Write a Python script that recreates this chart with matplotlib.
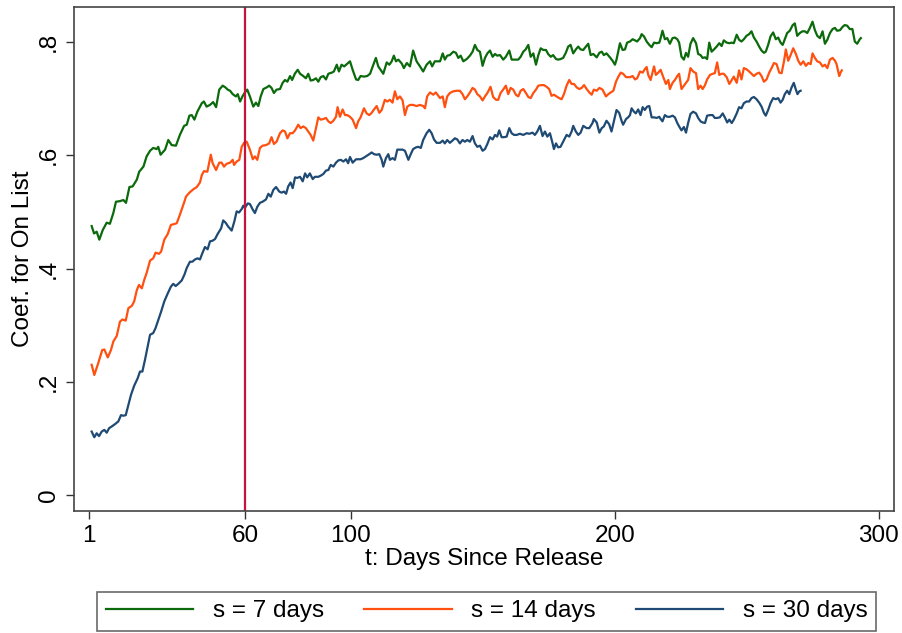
import matplotlib
matplotlib.use("Agg")
from matplotlib import pyplot as plt

plt.rcParams['font.family'] = ['Liberation Sans', 'DejaVu Sans']

# s = 7 days
days_7 = [2.0, 2.9, 3.9, 4.9, 6.2, 7.7, 8.9, 10.2, 11.2, 12.7, 14.0, 15.0, 16.3, 17.5, 19.1, 20.0,
          21.6, 22.8, 24.1, 25.3, 26.6, 27.2, 28.1, 29.8, 31.0, 32.3, 33.9, 35.4, 37.0, 38.0, 39.0,
          39.9, 40.9, 42.0, 43.7, 44.5, 45.5, 46.8, 48.0, 49.1, 50.3, 51.6, 52.6, 53.5, 54.4, 55.4,
          56.6, 57.3, 58.2, 59.2, 60.0, 60.9,
          61.9, 63.2, 64.2, 65.1, 66.0, 67.0, 68.3, 69.2, 70.1, 71.0, 72.0, 73.3, 74.3, 75.2, 76.1,
          77.1, 77.9, 78.9, 80.0, 80.9, 82.1, 83.1, 84.0, 84.9, 85.9, 86.9, 87.8, 88.7, 89.7, 90.7,
          91.6, 92.9, 93.7, 94.8, 95.6, 96.6, 97.6, 98.8, 99.8, 100.8, 102.1, 102.9, 103.8, 105.1,
          106.3, 107.4, 108.4, 109.6, 110.5, 111.4, 112.4, 113.7, 114.7, 115.6, 116.4, 117.2, 118.1,
          119.4, 120.2, 121.3, 122.5, 123.7, 125.0, 126.3, 127.5, 128.8, 130.1, 130.9, 131.9,
          133.9, 134.9, 135.7, 136.6, 137.6, 138.9, 139.9, 140.8, 141.7, 142.7, 144.0, 145.2, 146.2,
          147.1, 148.0, 149.0, 150.0, 150.9, 151.8, 152.8, 153.8, 154.7, 155.5, 156.6, 157.8, 158.8,
          160.1, 161.0, 162.2, 163.5, 164.4, 165.4, 166.3, 167.3, 168.2, 169.2, 170.2, 171.1, 172.0,
          173.0, 174.0, 174.8, 175.8, 176.7, 177.8, 178.6, 179.5, 180.5, 181.5, 182.4, 183.3, 184.3,
          185.3, 186.2, 187.1, 188.1, 189.1, 190.0, 190.9, 191.9, 193.2, 194.2, 195.1, 195.9, 196.9,
          198.2, 199.2, 200.1, 200.7, 202.0, 203.0, 203.9, 204.7,
          205.8, 206.8, 207.7, 208.5, 209.6, 210.2, 211.1, 212.1, 213.1, 214.0, 214.9, 215.9, 216.9,
          217.4, 218.1, 219.0, 219.9, 220.9, 221.9, 222.8, 223.7, 224.4, 225.3, 226.2, 227.0, 227.8,
          228.7, 229.7, 230.8, 231.6, 232.5, 233.3, 234.2, 235.0, 235.8, 236.7, 237.6, 238.6, 239.6,
          240.5, 241.3, 242.4, 243.4, 244.3, 245.1, 246.2, 247.1, 248.0, 248.9, 249.9, 250.9, 251.8,
          252.7, 253.7, 254.7, 255.6, 256.5, 257.2, 258.1, 259.0, 260.0, 261.0, 261.9, 262.8, 263.6,
          264.4, 265.3, 266.3, 267.4, 268.2, 269.1, 270.1, 271.1, 272.0, 272.9, 273.9, 274.9, 275.8,
          276.7, 277.7, 278.7, 279.6, 280.5, 281.5, 282.5, 283.4, 284.2, 285.3, 286.3, 287.1, 288.0,
          289.0, 290.0, 290.9, 291.8, 292.8, 293.2]
coef_7 = [.475, .462, .465, .451, .468, .481, .479, .498, .518, .519, .521, .516, .544, .545, .557, .571,
          .580, .598, .608, .613, .611, .615, .601, .610, .627, .618, .617, .636, .652, .654, .670,
          .671, .663, .677, .692, .695, .686, .689, .694, .685, .716, .723, .720, .716, .714, .708,
          .704, .708, .695, .705, .711, .716,
          .704, .686, .693, .687, .704, .717, .720, .723, .719, .710, .716, .717, .728, .733, .730,
          .740, .733, .744, .751, .744, .740, .736, .744, .732, .733, .736, .730, .738, .740, .734,
          .744, .746, .748, .760, .748, .760, .757, .762, .766, .751, .734, .733, .740, .739,
          .740, .744, .757, .772, .757, .751, .744, .764, .760, .766, .776, .766, .769,
          .762, .754, .763, .757, .785, .766, .757, .748, .760, .766, .757, .766,
          .766, .780, .769, .776, .777, .783, .781, .772, .776, .766, .770, .776, .783,
          .795, .786, .783, .758, .772, .780, .785, .774, .779, .776, .777, .769, .774,
          .785, .769, .769, .769, .774, .783, .787, .795, .774, .780, .760, .777, .789,
          .786, .786, .779, .774, .777, .770, .769, .770, .772, .781, .792, .795, .780,
          .787, .792, .787, .786, .792, .797, .777, .779, .773, .781, .783, .777, .780,
          .773, .767, .760, .769, .798, .786, .787, .799,
          .801, .805, .803, .801, .807, .814, .810, .801, .795, .791, .799, .798, .799,
          .807, .820, .805, .807, .797, .807, .808, .805, .799, .774, .769, .781, .774,
          .797, .807, .798, .779, .777, .772, .773, .770, .799, .783, .787, .792, .798,
          .793, .803, .799, .798, .799, .798, .813, .804, .801, .805, .811, .814, .819,
          .808, .801, .792, .785, .781, .783, .795, .810, .817, .805, .808, .799, .795,
          .805, .816, .820, .830, .833, .811, .816, .819, .819, .816, .825, .836, .821,
          .811, .807, .819, .797, .804, .816, .823, .825, .820, .821, .827, .830, .829,
          .823, .823, .801, .797, .805, .807]

# s = 14 days
days_14 = [2.0, 3.0, 4.5, 6.0, 6.8, 8.1, 9.3, 10.2, 11.5, 12.7, 13.6, 14.9, 15.9, 17.2, 18.1, 19.1,
           19.9, 21.0, 21.9, 22.8, 24.1, 25.3, 26.2, 27.5, 28.3, 29.5, 30.8, 32.0, 33.6, 34.2, 35.4,
           36.3, 37.1, 37.7, 39.0, 40.5, 41.8, 43.0, 43.7, 44.5, 45.8, 47.1, 47.8, 49.1, 50.3, 51.2,
           52.1, 53.1, 54.4, 55.4, 55.9, 56.9, 57.9, 58.8, 59.7, 60.7,
           61.9, 63.0, 63.8, 64.7, 65.7, 66.7, 68.0, 69.2, 70.1, 71.0, 72.0, 73.3, 74.3, 75.2, 76.1,
           77.1, 78.1, 79.0, 80.2, 81.1, 82.1, 83.1, 84.0, 84.9, 85.9, 86.9, 87.8, 88.7, 89.7, 90.7,
           91.6, 92.5, 93.5, 94.5, 95.1, 96.0, 97.0, 97.9, 98.8, 99.8, 100.8, 102.1, 102.9, 103.8,
           105.1, 106.1, 107.1, 108.0, 108.9, 109.9, 110.9, 111.8, 113.0, 113.9, 114.9, 115.9, 116.8,
           117.7, 118.7, 119.7, 120.6, 121.5, 122.5, 123.7, 125.0, 126.3, 127.5, 128.2, 129.0, 130.1,
           131.3, 132.3,
           133.9, 134.9, 135.7, 136.6, 137.6, 138.9, 140.2, 141.4, 142.4, 143.3, 144.2, 145.2, 146.2,
           147.1, 148.0, 149.0, 150.0, 150.9, 151.8, 153.0, 154.0, 155.1, 155.9, 156.8, 157.8, 158.8,
           159.7, 160.6, 161.6, 162.6, 163.5, 164.4, 165.4, 166.4, 167.3, 168.2, 169.2, 170.2, 171.1,
           172.3, 173.2, 174.2, 175.2, 176.1, 177.0, 178.0, 179.0, 179.9, 180.8, 181.8, 182.8, 183.7,
           184.6, 185.6, 186.6, 187.5, 188.4, 189.4, 190.4, 191.3, 192.1, 193.2, 194.2, 195.4, 196.7,
           197.6, 198.5, 199.5, 200.5, 201.3, 202.3, 203.2, 204.3, 205.1,
           205.8, 206.8, 207.7, 208.5, 209.6, 210.6, 211.4, 212.1, 212.7, 213.6, 214.4, 214.9, 215.6,
           216.5, 217.4, 218.4, 219.4, 220.3, 220.9, 221.9, 222.8, 223.7, 224.4, 225.3, 226.2, 227.0,
           227.8, 228.7, 229.7, 230.8, 231.6, 232.5, 233.3, 234.2, 235.0, 236.1, 237.1, 237.9, 238.8,
           239.6, 240.5, 241.3, 242.4, 243.4, 244.3, 245.1, 246.2, 247.1, 248.0, 248.9, 249.9, 250.9,
           251.8, 252.7, 253.7, 254.7, 255.6, 256.5, 257.5, 258.5, 259.4, 260.3, 261.3, 262.3, 263.2,
           264.1, 264.8, 265.7, 266.6, 267.6, 268.6, 269.5, 270.4, 271.4, 272.4, 273.3, 274.2, 274.9,
           275.8, 276.7, 277.7, 278.7, 279.6, 280.5, 281.5, 282.5, 283.4, 284.0, 284.6, 285.0, 285.5,
           286.0]
coef_14 = [.230, .212, .233, .256, .257, .243, .256, .271, .281, .306, .310, .308, .330, .334, .342, .362,
           .371, .365, .380, .392, .414, .418, .428, .426, .430, .451, .461, .477, .479, .480, .495,
           .507, .518, .527, .534, .540, .544, .552, .565, .572, .571, .601, .586, .574, .587, .587,
           .580, .585, .587, .592, .583, .589, .592, .615, .622, .624,
           .610, .593, .598, .592, .613, .617, .618, .621, .632, .620, .624, .639, .644, .642, .630,
           .639, .639, .644, .654, .648, .651, .648, .642, .636, .626, .648, .667, .663, .664, .666,
           .660, .657, .661, .668, .685, .668, .681, .671, .671, .668, .663, .648, .660, .667,
           .683, .674, .671, .675, .681, .687, .675, .680, .698, .695, .698, .693, .713,
           .699, .704, .697, .671, .686, .689, .689, .687, .689, .687, .683, .704, .711,
           .707, .711,
           .701, .704, .685, .704, .710, .713, .714, .714, .708, .699, .704, .711, .719,
           .716, .708, .704, .697, .704, .710, .721, .703, .698, .698, .710, .716, .723,
           .708, .719, .716, .707, .704, .714, .717, .710, .703, .701, .710, .716, .723,
           .724, .724, .721, .717, .705, .707, .704, .701, .699, .708, .723, .733, .726,
           .726, .720, .717, .719, .724, .717, .711, .707, .716, .714, .719, .716, .704,
           .708, .711, .714, .730, .738, .746, .744, .738, .738,
           .738, .740, .734, .736, .748, .746, .752, .756, .742, .733, .748, .757, .742,
           .746, .751, .738, .726, .733, .717, .728, .733, .740, .744, .717, .723, .728,
           .733, .754, .748, .745, .717, .723, .717, .724, .734, .742, .744, .745, .764,
           .742, .744, .744, .738, .726, .733, .739, .728, .750, .734, .754, .752, .748,
           .744, .740, .744, .746, .740, .730, .734, .746, .754, .763, .761, .746, .745,
           .766, .787, .767, .777, .789, .779, .767, .760, .766, .758, .763, .761, .780,
           .772, .766, .764, .757, .760, .754, .769, .772, .767, .761, .748, .740, .746,
           .750]

# s = 30 days
days_30 = [2.0, 3.0, 3.9, 4.8, 5.8, 6.8, 7.7, 8.6, 9.6, 10.8, 12.1, 13.1, 14.0, 14.9, 15.9, 16.9,
           18.1, 19.4, 20.3, 21.2, 22.2, 23.2, 24.1, 25.3, 26.2, 27.2, 28.3, 29.5, 30.8, 32.0, 32.9,
           33.8, 34.8, 36.1, 37.1, 38.0, 39.2, 40.1, 41.1, 42.1, 43.0, 43.9, 44.9, 45.9, 46.8, 47.7,
           48.7, 49.7, 51.0, 51.8, 52.7, 53.7, 55.0, 56.0, 56.9, 57.8, 58.8, 59.4, 60.0, 61.1,
           61.9, 63.0, 63.8, 64.7, 65.7, 66.7, 68.0, 68.9, 69.8, 70.8, 71.8, 73.0, 73.9, 74.8, 75.6,
           76.4, 77.3, 78.1, 79.0, 79.8, 80.9, 81.9, 82.8, 83.6, 84.6, 85.7, 86.5, 87.8, 88.7, 89.7,
           90.7, 91.6, 92.5, 93.5, 94.5, 95.4, 96.3, 97.3, 98.3, 99.1, 99.8, 100.8, 102.1, 102.9,
           103.8, 104.8, 105.8, 107.1, 108.0, 108.9, 109.9, 110.9, 111.8, 112.4, 113.4, 114.3, 114.9,
           115.9, 116.8, 117.7, 118.7, 119.7, 120.6, 121.9, 122.8, 123.7, 124.8, 125.6, 126.6, 127.5,
           128.8, 129.8, 130.7, 131.6, 132.6,
           133.9, 134.9, 135.7, 136.6, 137.6, 138.6, 139.5, 140.4, 141.4, 142.4, 143.3, 144.2, 145.2,
           146.2, 147.1, 148.0, 149.0, 150.0, 150.9, 151.8, 152.8, 153.8, 154.7, 155.5, 156.3, 157.2,
           158.1, 159.1, 160.1, 161.0, 161.9, 162.9, 164.1, 165.4, 166.7, 167.7, 168.9, 169.8, 170.7,
           171.7, 172.7, 173.6, 174.5, 175.5, 176.5, 177.0, 177.8, 178.6, 179.5, 180.8, 181.8, 182.8,
           183.7, 184.3, 185.3, 186.2, 187.1, 188.1, 189.4, 190.4, 191.6, 192.1, 193.2, 194.2, 195.1,
           195.9, 196.9, 197.9, 198.8, 199.7, 200.7, 201.7, 202.6, 203.2, 204.3, 205.1,
           205.8, 206.4, 207.3, 208.0, 208.9, 209.8, 210.6, 211.4, 212.3, 213.1, 214.0, 214.9, 215.9,
           216.9, 217.4, 218.1, 219.0, 219.9, 220.9, 221.9, 222.8, 223.7, 224.4, 225.3, 226.2, 227.0,
           227.8, 228.7, 229.7, 230.8, 231.6, 232.5, 233.3, 234.2, 235.0, 236.1, 237.1, 237.9, 238.8,
           239.8, 240.9, 241.7, 242.6, 243.4, 244.3, 245.1, 246.2, 247.1, 248.0, 248.9, 249.9, 250.9,
           251.8, 252.7, 253.7, 254.7, 255.6, 256.5, 257.2, 258.1, 259.0, 260.0, 261.0, 261.9, 262.8,
           263.6, 264.4, 265.3, 266.1, 266.9, 267.8, 268.6, 269.2, 269.9, 270.4]
coef_30 = [.112, .102, .109, .104, .112, .115, .110, .118, .121, .125, .130, .141, .140, .141, .159, .177,
           .193, .206, .218, .218, .239, .262, .283, .286, .295, .309, .324, .342, .356, .368, .373,
           .369, .373, .379, .389, .401, .412, .412, .416, .418, .416, .427, .438, .434, .448, .449,
           .452, .461, .471, .485, .481, .474, .467, .483, .501, .499, .505, .511, .507, .515,
           .514, .504, .498, .509, .516, .518, .522, .532, .527, .539, .544, .536, .534, .536, .532,
           .545, .552, .542, .561, .560, .562, .554, .568, .561, .568, .558, .562, .562, .564, .567,
           .573, .574, .583, .580, .587, .591, .592, .589, .593, .586, .597, .587, .593, .593,
           .593, .595, .598, .602, .605, .602, .601, .602, .592, .580, .595, .602, .592,
           .595, .592, .610, .610, .610, .608, .592, .602, .611, .614, .615, .613, .627,
           .639, .645, .639, .628, .622,
           .622, .626, .621, .627, .622, .626, .630, .628, .621, .627, .624, .627, .624,
           .634, .621, .615, .617, .608, .611, .620, .632, .628, .636, .633, .644, .632,
           .632, .633, .648, .639, .636, .636, .638, .636, .639, .638, .640, .636, .642,
           .652, .634, .642, .633, .639, .621, .611, .621, .614, .615, .627, .636, .633,
           .642, .652, .642, .636, .640, .652, .648, .648, .657, .664, .658, .640, .648,
           .651, .661, .655, .642, .660, .680, .675, .661, .654, .664, .667,
           .671, .683, .677, .674, .681, .671, .685, .680, .686, .687, .667, .667, .666,
           .668, .664, .660, .671, .668, .668, .670, .667, .657, .651, .644, .650, .640,
           .657, .673, .677, .674, .666, .660, .658, .657, .670, .671, .671, .666, .666,
           .667, .674, .667, .658, .663, .657, .663, .674, .685, .683, .692, .695, .695,
           .701, .703, .699, .693, .686, .675, .670, .680, .692, .701, .699, .701, .693,
           .698, .708, .714, .708, .719, .728, .716, .708, .713, .714]

series = [(days_7, coef_7, 's = 7 days', '#0b6a0b'),
          (days_14, coef_14, 's = 14 days', '#ff5010'),
          (days_30, coef_30, 's = 30 days', '#1f4a73')]

x_ticks = [1, 60, 100, 200, 300]
y_ticks = [0, .2, .4, .6, .8]
y_tick_labels = ['0', '.2', '.4', '.6', '.8']

fs = 17.5

fig = plt.figure(figsize=(9.02, 6.33), dpi=100)
ax = fig.add_axes([0.082, 0.193, 0.909, 0.796])

for d, c, lab, col in series:
    ax.plot(d, c, color=col, lw=1.6, label=lab)

ax.axvline(60, color='#c8143c', lw=1.6)

ax.set_xlim(-4.7, 305.7)
ax.set_ylim(-0.028, 0.862)
ax.set_xticks(x_ticks)
ax.set_xticklabels([str(t) for t in x_ticks])
ax.set_yticks(y_ticks)
ax.set_yticklabels(y_tick_labels, rotation=90, va='center')
ax.tick_params(direction='out', length=6, width=1, colors='#333333', labelcolor='black',
               labelsize=fs, pad=4)
for sp in ax.spines.values():
    sp.set_color('#444444')
    sp.set_linewidth(1.2)

ax.set_xlabel('t: Days Since Release', fontsize=fs, labelpad=1)
ax.set_ylabel('Coef. for On List', fontsize=fs, labelpad=3)

leg = fig.legend(loc='lower center', bbox_to_anchor=(0.5395, 0.0), ncol=3, fontsize=fs,
                 frameon=True, fancybox=False, edgecolor='#444444', handlelength=3.6,
                 handletextpad=0.8, columnspacing=1.65, borderpad=0.35, borderaxespad=0.1)
leg.get_frame().set_linewidth(1.2)

fig.savefig('out.png', dpi=100)
